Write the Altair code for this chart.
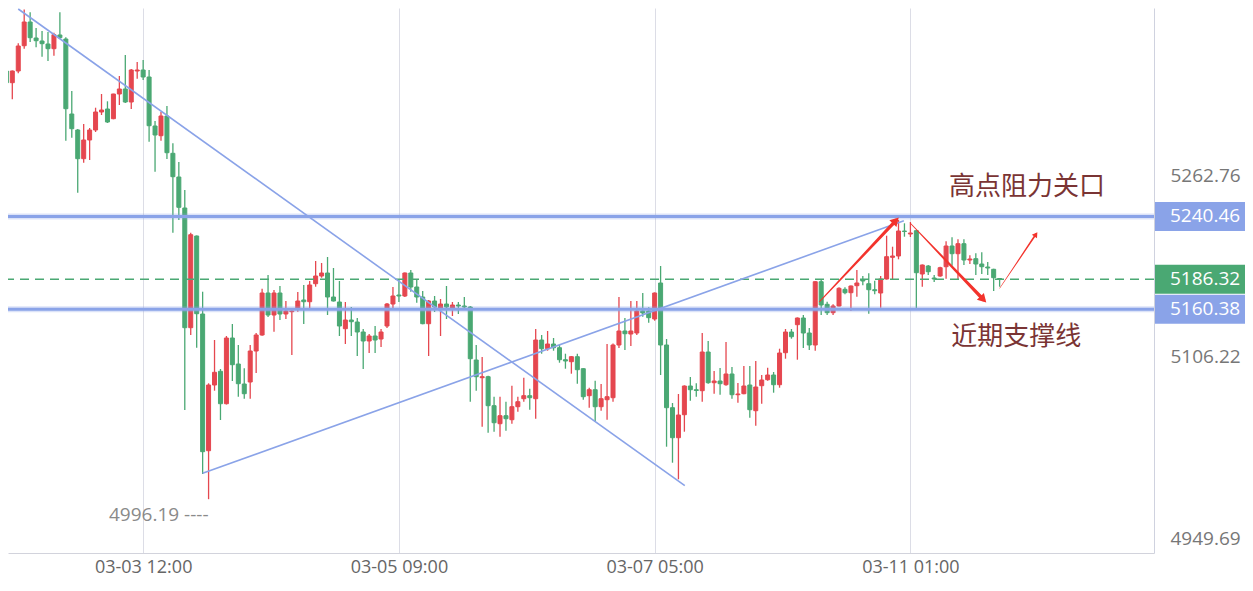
import altair as alt
import pandas as pd

# ---------------- data ----------------
first_index = -23  # candle index of the left-most candle (index 0 = 03-03 12:00)

opens = [
    5366.18, 5356.07, 5366.18, 5388.04, 5408.52, 5394.69, 5392.10, 5389.51, 5385.45, 5397.29,
    5393.83, 5329.02, 5315.20, 5290.40, 5306.56, 5315.20, 5330.75, 5333.34, 5324.96, 5346.30,
    5350.63, 5339.39, 5366.18, 5367.04, 5360.99, 5318.65, 5310.27, 5327.29, 5295.06, 5274.58,
    5247.80, 5144.37, 5223.60, 5156.20, 5038.08, 5094.85, 5106.69, 5078.69, 5135.46, 5113.00,
    5095.72, 5097.44, 5124.23, 5138.06, 5174.35, 5155.34, 5174.35, 5156.20, 5158.19, 5161.39,
    5168.30, 5166.83, 5182.38, 5189.04, 5191.63, 5170.89, 5166.57, 5143.50, 5151.02, 5149.29,
    5140.65, 5132.87, 5137.19, 5134.60, 5145.83, 5164.84, 5172.62, 5171.76, 5191.63, 5179.53,
    5170.89, 5147.82, 5167.44, 5161.39, 5164.84, 5161.39, 5163.98, 5163.12, 5162.25, 5116.45,
    5101.16, 5102.02, 5076.97, 5061.41, 5068.32, 5064.87, 5076.10, 5083.01, 5085.61, 5083.01,
    5133.74, 5126.22, 5130.28, 5127.08, 5116.71, 5114.98, 5119.31, 5108.94, 5085.61, 5090.79,
    5076.10, 5082.15, 5083.88, 5129.42, 5141.51, 5138.92, 5139.78, 5158.79, 5158.79, 5151.88,
    5182.99, 5129.42, 5075.24, 5049.31, 5069.19, 5093.99, 5090.79, 5089.93, 5123.37, 5096.84,
    5098.31, 5095.11, 5104.36, 5086.47, 5087.33, 5094.85, 5072.64, 5094.25, 5099.43, 5103.49,
    5095.11, 5122.76, 5140.65, 5146.96, 5152.75, 5139.78, 5129.42, 5184.11, 5164.58, 5157.33,
    5163.12, 5177.54, 5174.61, 5180.66, 5185.58, 5182.38, 5177.20, 5174.35, 5186.45, 5205.20,
    5206.32, 5227.92, 5225.33, 5228.18, 5190.77, 5197.68, 5187.31, 5189.04, 5197.07, 5214.96,
    5208.31, 5216.95, 5202.86, 5203.99, 5199.41, 5196.82, 5194.83, 5186.88,
]
highs = [
    5367.04, 5366.60, 5390.11, 5419.29, 5416.90, 5403.34, 5400.74, 5399.88, 5399.27, 5416.90,
    5395.30, 5348.90, 5316.00, 5320.38, 5316.93, 5334.47, 5346.30, 5340.00, 5346.50, 5361.86,
    5380.00, 5367.91, 5373.96, 5375.68, 5367.04, 5322.97, 5330.75, 5335.94, 5303.70, 5287.55,
    5263.35, 5226.45, 5224.00, 5175.47, 5096.32, 5133.74, 5108.68, 5137.19, 5147.56, 5129.42,
    5109.28, 5129.42, 5139.78, 5178.06, 5189.90, 5176.94, 5180.40, 5167.44, 5159.66, 5175.21,
    5181.26, 5184.72, 5202.00, 5200.27, 5205.46, 5195.95, 5184.72, 5166.57, 5162.25, 5152.75,
    5143.24, 5138.92, 5145.83, 5143.24, 5165.71, 5179.53, 5185.58, 5192.00, 5194.22, 5186.19,
    5176.08, 5168.30, 5171.76, 5169.16, 5180.40, 5166.57, 5166.57, 5170.89, 5163.12, 5129.42,
    5119.05, 5102.89, 5084.74, 5084.74, 5080.42, 5094.25, 5084.74, 5101.16, 5091.65, 5143.24,
    5138.06, 5141.51, 5135.46, 5129.68, 5121.90, 5119.80, 5121.90, 5109.40, 5092.52, 5098.57,
    5095.72, 5130.28, 5130.80, 5170.89, 5152.75, 5167.44, 5167.44, 5174.35, 5161.99, 5174.80,
    5197.68, 5134.60, 5079.30, 5087.07, 5094.50, 5101.76, 5096.32, 5139.78, 5132.87, 5106.95,
    5109.54, 5132.01, 5110.41, 5096.58, 5111.27, 5111.27, 5115.59, 5103.49, 5109.80, 5106.08,
    5126.22, 5143.24, 5143.24, 5153.20, 5155.34, 5144.11, 5184.60, 5185.58, 5166.83, 5164.58,
    5179.27, 5179.27, 5180.90, 5194.22, 5189.04, 5191.37, 5184.98, 5189.04, 5223.86, 5214.36,
    5237.43, 5234.58, 5235.70, 5228.60, 5199.00, 5198.54, 5189.90, 5197.07, 5219.02, 5222.48,
    5220.75, 5220.75, 5206.93, 5208.65, 5209.52, 5201.14, 5195.30, 5187.31,
]
lows = [
    5345.44, 5341.73, 5364.19, 5385.45, 5391.24, 5386.66, 5378.54, 5374.82, 5379.40, 5394.09,
    5305.95, 5308.54, 5261.02, 5286.94, 5289.27, 5313.47, 5328.16, 5321.25, 5324.50, 5336.80,
    5338.53, 5333.34, 5359.53, 5358.40, 5305.09, 5279.16, 5305.95, 5290.14, 5226.45, 5237.43,
    5073.25, 5138.06, 5127.08, 5017.95, 4996.19, 5089.93, 5064.61, 5078.00, 5098.31, 5084.74,
    5083.01, 5083.01, 5105.22, 5137.50, 5153.61, 5140.91, 5151.02, 5151.88, 5120.77, 5158.19,
    5147.56, 5160.78, 5179.79, 5187.57, 5155.34, 5167.00, 5137.19, 5130.28, 5137.19, 5119.91,
    5108.68, 5122.50, 5122.50, 5127.69, 5144.11, 5160.52, 5166.57, 5170.89, 5175.47, 5165.97,
    5147.30, 5119.91, 5157.93, 5137.19, 5151.88, 5154.47, 5156.20, 5161.39, 5080.42, 5089.93,
    5058.82, 5053.63, 5054.50, 5050.18, 5055.36, 5061.41, 5071.78, 5080.42, 5073.51, 5065.73,
    5121.90, 5124.49, 5124.49, 5114.12, 5108.94, 5104.62, 5095.98, 5082.15, 5075.24, 5063.14,
    5072.64, 5064.87, 5080.42, 5126.82, 5125.09, 5128.55, 5138.06, 5153.87, 5148.68, 5150.42,
    5103.49, 5041.54, 5027.71, 5013.37, 5054.50, 5081.29, 5084.74, 5080.42, 5095.98, 5087.33,
    5086.47, 5094.25, 5083.01, 5079.56, 5086.90, 5066.60, 5059.68, 5078.69, 5098.57, 5088.20,
    5092.52, 5117.58, 5134.86, 5116.71, 5126.82, 5125.09, 5124.49, 5155.34, 5155.34, 5155.34,
    5162.70, 5173.23, 5158.79, 5171.15, 5181.00, 5156.46, 5173.23, 5161.65, 5186.00, 5185.58,
    5203.47, 5223.00, 5222.74, 5161.13, 5179.79, 5189.90, 5183.85, 5188.43, 5186.70, 5197.94,
    5186.45, 5198.54, 5199.41, 5189.90, 5190.77, 5189.90, 5176.08, 5179.79,
]
closes = [
    5356.07, 5366.18, 5387.78, 5408.52, 5394.95, 5392.36, 5389.77, 5385.45, 5397.55, 5394.95,
    5333.60, 5316.32, 5290.40, 5306.56, 5315.20, 5330.75, 5332.48, 5322.11, 5346.30, 5350.63,
    5339.39, 5367.04, 5367.04, 5360.99, 5318.91, 5310.88, 5327.29, 5295.58, 5274.84, 5248.40,
    5144.37, 5224.72, 5156.46, 5037.22, 5094.85, 5105.83, 5078.69, 5135.46, 5112.39, 5095.98,
    5087.33, 5124.23, 5138.06, 5174.35, 5155.34, 5174.35, 5156.20, 5158.79, 5158.79, 5167.44,
    5166.83, 5181.26, 5189.04, 5191.63, 5170.89, 5167.44, 5145.83, 5151.02, 5149.55, 5140.65,
    5132.87, 5137.19, 5133.74, 5140.65, 5164.84, 5171.76, 5171.76, 5191.63, 5179.53, 5170.89,
    5147.82, 5167.44, 5162.25, 5164.84, 5162.25, 5163.98, 5163.12, 5162.25, 5117.58, 5102.02,
    5102.02, 5076.97, 5062.27, 5068.32, 5065.73, 5076.10, 5080.42, 5085.61, 5083.88, 5133.74,
    5126.22, 5130.28, 5127.08, 5116.71, 5115.59, 5119.31, 5108.07, 5084.74, 5090.79, 5076.10,
    5083.01, 5084.74, 5129.42, 5141.51, 5139.18, 5141.51, 5158.79, 5157.07, 5153.01, 5174.35,
    5129.42, 5075.24, 5049.31, 5068.93, 5093.99, 5090.79, 5090.10, 5123.37, 5096.84, 5098.31,
    5095.98, 5104.36, 5086.47, 5087.07, 5093.99, 5073.51, 5093.12, 5099.17, 5103.49, 5095.11,
    5122.50, 5140.65, 5136.59, 5152.75, 5139.78, 5129.42, 5184.11, 5163.98, 5157.33, 5163.12,
    5178.41, 5174.61, 5180.40, 5182.99, 5184.72, 5177.20, 5176.34, 5186.45, 5205.72, 5206.32,
    5227.92, 5227.49, 5226.19, 5191.89, 5198.54, 5192.75, 5186.45, 5196.21, 5214.96, 5208.31,
    5216.95, 5202.86, 5203.73, 5199.41, 5197.07, 5195.95, 5187.57, 5186.32,
]

tick_index = [0, 43, 86, 129]
tick_labels = ["03-03 12:00", "03-05 09:00", "03-07 05:00", "03-11 01:00"]
price_ticks = [4949.69, 5106.22, 5262.76]

level_values = [5240.46, 5160.38]          # blue horizontal levels
last_price = 5186.32                        # dashed green line

low_index = 11
low_price = 4996.19
low_text = "4996.19 ----"

trend_id = ["down", "down", "up", "up"]
trend_x = [-21.0, 91.07, 10.0, 127.9]
trend_y = [5419.75, 5007.84, 5018.55, 5236.82]

arrow_id = ["a1", "a1", "a2", "a2", "a3", "a3"]
arrow_order = [0, 1, 0, 1, 0, 1]
arrow_x = [113.73, 126.55, 129.0, 141.26, 144.0, 150.1]
arrow_y = [5166.83, 5236.9, 5234.58, 5168.77, 5178.41, 5225.03]
arrow_w = [1.0, 3.6, 0.8, 3.6, 0.5, 1.8]
head_x = [126.55, 141.26, 150.1]
head_y = [5236.9, 5168.77, 5225.03]
head_angle = [43.5, 136.0, 34.0]
head_size = [95, 95, 38]

note_text = ["高点阻力关口", "近期支撑线"]
note_x = [148.6, 146.8]
note_y = [5265.94, 5136.33]

# ---------------- styles ----------------
RED = "#e5474f"
GREEN = "#4aa873"
BLUE = "#8aa3e8"
W, H = 1146, 545

candles = pd.DataFrame({
    "idx": list(range(first_index, first_index + len(opens))),
    "open": opens, "high": highs, "low": lows, "close": closes,
})
candles["dir"] = ["up" if c >= o else "down" for o, c in zip(opens, closes)]

label_expr = " : ".join(f"datum.value == {i} ? '{s}'" for i, s in zip(tick_index, tick_labels)) + " : ''"

xscale = alt.Scale(domain=[-21.883, 169.117], nice=False, zero=False)
yscale = alt.Scale(domain=[4949.69, 5420.62], nice=False, zero=False)

xaxis = alt.Axis(values=tick_index, labelExpr=label_expr, grid=True, gridColor="#dcdde6",
                 gridWidth=1, ticks=False, domainColor="#d2d3dc", labelPadding=5,
                 labelFontSize=18, labelFont="Open Sans", labelColor="#666666",
                 labelFlush=False, labelOverlap=False, title=None)
yaxis = alt.Axis(orient="right", values=price_ticks, format=".2f", grid=False, ticks=False,
                 domainColor="#cfd2df", labelPadding=16, labelOffset=-15, labelFontSize=19,
                 labelFont="Open Sans", labelColor="#777777", labelFlush=False,
                 labelOverlap=False, title=None)


def X(f):
    return alt.X(f, scale=xscale, axis=xaxis, title=None)


def Y(f):
    return alt.Y(f, scale=yscale, axis=yaxis, title=None)


dir_scale = alt.Scale(domain=["up", "down"], range=[RED, GREEN])

wicks = alt.Chart(candles).mark_rule(strokeWidth=1.3, clip=True).encode(
    x=X("idx:Q"), y=Y("low:Q"), y2="high:Q",
    color=alt.Color("dir:N", scale=dir_scale, legend=None),
)
bodies = alt.Chart(candles).mark_bar(size=4, strokeWidth=1, clip=True).encode(
    x=X("idx:Q"), y=Y("open:Q"), y2="close:Q",
    color=alt.Color("dir:N", scale=dir_scale, legend=None),
    stroke=alt.Stroke("dir:N", scale=dir_scale, legend=None),
)

levels_df = pd.DataFrame({"v": level_values})
levels_halo = alt.Chart(levels_df).mark_rule(color=BLUE, strokeWidth=6, opacity=0.3).encode(y=Y("v:Q"))
levels = alt.Chart(levels_df).mark_rule(color=BLUE, strokeWidth=3).encode(y=Y("v:Q"))

last_df = pd.DataFrame({"v": [last_price]})
last_line = alt.Chart(last_df).mark_rule(
    color=GREEN, strokeWidth=1.5, strokeDash=[9, 6]).encode(y=Y("v:Q"))

trend_df = pd.DataFrame({"id": trend_id, "x": trend_x, "y": trend_y})
trends = alt.Chart(trend_df).mark_line(color=BLUE, strokeWidth=1.6, clip=True).encode(
    x=X("x:Q"), y=Y("y:Q"), detail="id:N")

arrow_df = pd.DataFrame({"id": arrow_id, "o": arrow_order, "x": arrow_x, "y": arrow_y, "w": arrow_w})
arrows = alt.Chart(arrow_df).mark_trail(color="#f3332c").encode(
    x=X("x:Q"), y=Y("y:Q"), detail="id:N", order="o:Q",
    size=alt.Size("w:Q", scale=None, legend=None))
head_df = pd.DataFrame({"x": head_x, "y": head_y, "a": head_angle, "s": head_size})
heads = alt.Chart(head_df).mark_point(shape="triangle-up", filled=True, color="#f3332c", opacity=1).encode(
    x=X("x:Q"), y=Y("y:Q"), angle=alt.Angle("a:Q", scale=None),
    size=alt.Size("s:Q", scale=None, legend=None))

notes = alt.Chart(pd.DataFrame({"t": note_text, "x": note_x, "y": note_y})).mark_text(
    font="Noto Sans CJK SC", fontSize=26, color="#7a3434", align="center", baseline="middle"
).encode(x=X("x:Q"), y=Y("y:Q"), text="t:N")

low_label = alt.Chart(pd.DataFrame({"x": [low_index], "y": [low_price], "t": [low_text]})).mark_text(
    font="Open Sans", fontSize=19, color="#8a8a8a", align="right", baseline="middle", dy=16
).encode(x=X("x:Q"), y=Y("y:Q"), text="t:N")

# right-hand price boxes (blue for the two levels, green for the last price)
level_boxes = alt.Chart(levels_df).mark_rule(strokeWidth=29, strokeCap="butt", color=BLUE).encode(
    x=alt.value(W + 1), x2=alt.value(W + 91), y=Y("v:Q"))
last_box = alt.Chart(last_df).mark_rule(strokeWidth=29, strokeCap="butt", color=GREEN).encode(
    x=alt.value(W + 1), x2=alt.value(W + 91), y=Y("v:Q"))
level_text = alt.Chart(levels_df).mark_text(
    align="left", baseline="middle", color="white", fontSize=19, font="Open Sans"
).encode(x=alt.value(W + 16), y=Y("v:Q"), text=alt.Text("v:Q", format=".2f"))
last_text = alt.Chart(last_df).mark_text(
    align="left", baseline="middle", color="white", fontSize=19, font="Open Sans"
).encode(x=alt.value(W + 16), y=Y("v:Q"), text=alt.Text("v:Q", format=".2f"))

chart = alt.layer(
    wicks, bodies, levels_halo, levels, last_line, trends, arrows, heads,
    notes, low_label, level_boxes, last_box, level_text, last_text,
).properties(
    width=W, height=H,
    autosize=alt.AutoSizeParams(type="none"),
    padding={"left": 0, "top": 0, "right": 91, "bottom": 30},
    background="white",
).configure_view(strokeWidth=0)

chart.save("out.html", embed_options={"renderer": "svg", "actions": False})
